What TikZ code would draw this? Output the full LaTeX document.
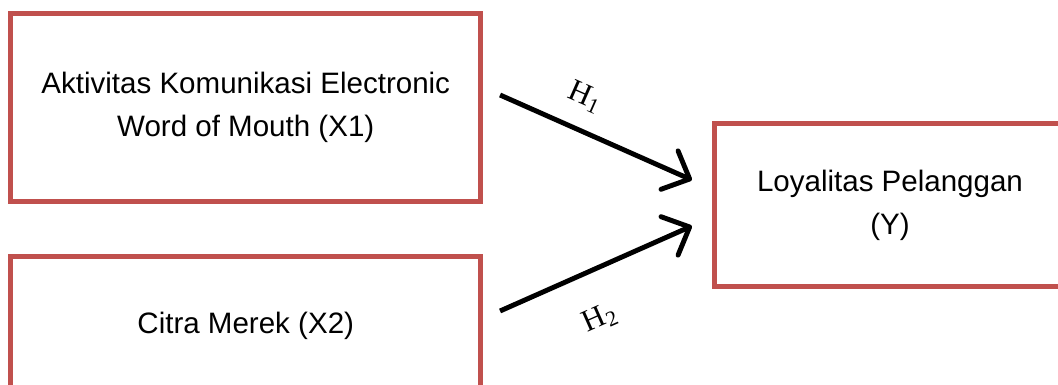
\documentclass[tikz,border=0pt]{standalone}
\usepackage{fontspec}
\setmainfont{Liberation Sans}
\newfontfamily\hfont{Liberation Serif}
\usetikzlibrary{arrows.meta, positioning, calc}
\definecolor{boxred}{HTML}{C0504D}
\tikzset{
  varbox/.style = {draw=boxred, line width=3.5pt, rectangle, align=center,
                   font=\fontsize{21}{30.6}\selectfont, inner sep=0pt},
  arr/.style    = {-{Straight Barb[length=5.5mm, width=10.5mm, round]}, line width=3.5pt},
  lbl/.style    = {font=\hfont\fontsize{22}{26}\selectfont, inner sep=0pt}
}

\begin{document}
\begin{tikzpicture}[x=0.025cm, y=-0.025cm]

  \useasboundingbox (0,0) rectangle (1058,385);
  \clip (0,0) rectangle (1058,385);

  % ── Variables ─────────────────────────────────────────────────────────────
  \node[varbox, minimum width=11.74cm, minimum height=4.7cm]  (X1) at (245.75,107.5)
        {Aktivitas Komunikasi Electronic\\ Word of Mouth (X1)};
  \node[varbox, minimum width=11.74cm, minimum height=3.49cm] (X2) at (245.75,326)
        {Citra Merek (X2)};
  \node[varbox, minimum width=8.78cm, minimum height=4.08cm]  (Y)  at (890,205)
        {Loyalitas Pelanggan\\ (Y)};

  % ── Arrow ends ────────────────────────────────────────────────────────────
  \coordinate (h1s) at ($(X1.east)+(17,-12.5)$);
  \coordinate (h1e) at ($(Y.west)+(-20,-25)$);
  \coordinate (h2s) at ($(X2.east)+(17,-15)$);
  \coordinate (h2e) at ($(Y.west)+(-20,21)$);

  % ── Hypotheses ────────────────────────────────────────────────────────────
  \draw[arr] (h1s) -- node[lbl, sloped, pos=0.375, above=0.45cm] {H\textsubscript{1}} (h1e);
  \draw[arr] (h2s) -- node[lbl, sloped, pos=0.42, below=0.82cm] {H\textsubscript{2}} (h2e);

\end{tikzpicture}
\end{document}
